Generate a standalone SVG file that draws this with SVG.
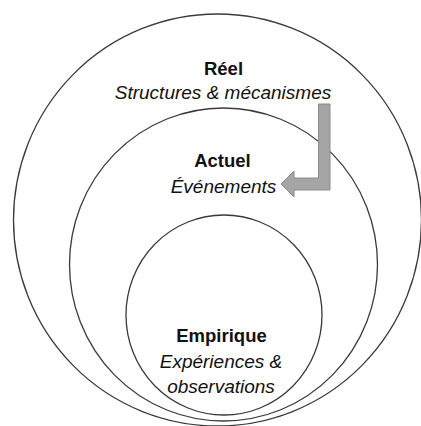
<svg xmlns="http://www.w3.org/2000/svg" width="421" height="426" viewBox="0 0 421 426">
<style>
.ring{fill:none;stroke:#3a3a3a;stroke-width:1.3}
.t{font-family:"Liberation Sans",Arial,sans-serif;fill:#111;text-anchor:middle}
.b{font-weight:bold;font-size:18.5px}
.i{font-style:italic;font-size:19px}
.arrow{fill:#a5a5a5;stroke:#8a8a8a;stroke-width:1}
</style>
<rect width="421" height="426" fill="#fff"/>
<g id="reel">
<ellipse class="ring" cx="217.5" cy="220" rx="204" ry="206"/>
<text class="t b" x="223.5" y="75">Réel</text>
<text class="t i" x="223" y="99">Structures &amp; mécanismes</text>
</g>
<g id="actuel">
<ellipse class="ring" cx="223.5" cy="264.5" rx="154" ry="156.5"/>
<text class="t b" x="222.5" y="167">Actuel</text>
<text class="t i" x="223.5" y="193">Événements</text>
</g>
<g id="empirique">
<ellipse class="ring" cx="224" cy="315" rx="98" ry="100"/>
<text class="t b" x="221.5" y="342">Empirique</text>
<text class="t i" x="221" y="368">Expériences &amp;</text>
<text class="t i" x="221" y="393">observations</text>
</g>
<g id="connectors">
<path class="arrow" d="M318.5,104 L330,104 L330,190 L294,190 L294,197 L281,184 L294,171 L294,178 L318.5,178 Z"/>
</g>
</svg>
